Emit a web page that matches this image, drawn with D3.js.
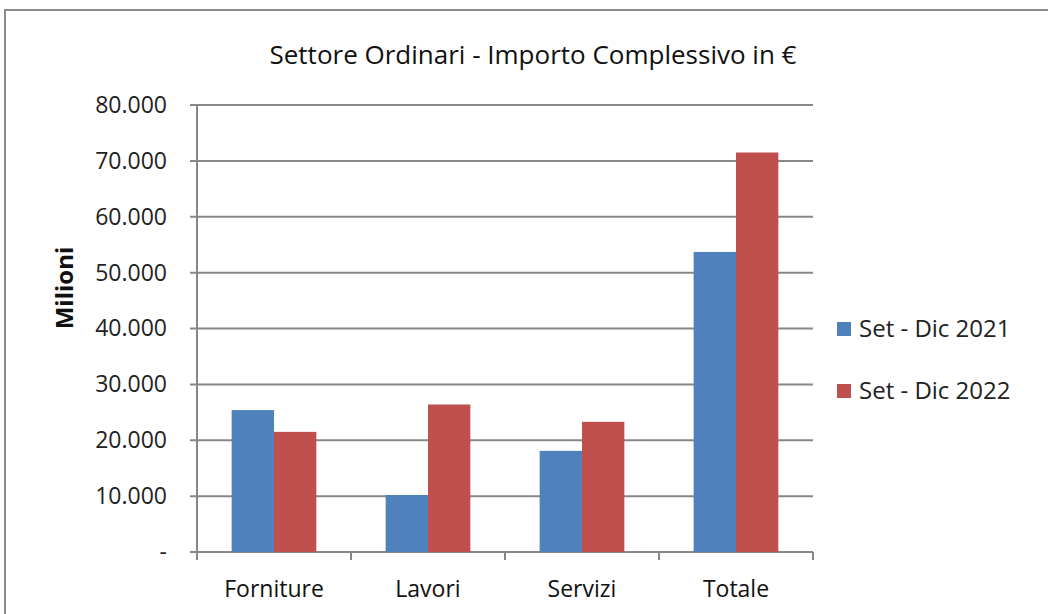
<!DOCTYPE html>
<html>
<head>
<meta charset="utf-8">
<script src="https://cdn.jsdelivr.net/npm/d3@7"></script>
<style>
    body { margin: 0; background: #fff; }
    .tick text { font-family: "Open Sans", sans-serif; font-size: 23px; fill: #222; }
    .label { font-family: "Open Sans", sans-serif; fill: #111; }
</style>
</head>
<body>
<div id="chart"></div>
<script>
const categories = ["Forniture", "Lavori", "Servizi", "Totale"];
const seriesNames = ["Set - Dic 2021", "Set - Dic 2022"];
const values2021 = [25400, 10200, 18100, 53700];
const values2022 = [21500, 26400, 23300, 71500];
const yTicks = [0, 10000, 20000, 30000, 40000, 50000, 60000, 70000, 80000];
const colors = ["#4F81BD", "#C0504D"];

function init() {
    const w = 1048;
    const h = 614;
    const left = 197, right = 813, top = 105, bottom = 552;

    var svg = d3.select("#chart").append("svg").attr("width", w).attr("height", h);

    // outer frame
    svg.append("path")
        .attr("d", "M5," + h + "V10H" + w)
        .attr("fill", "none")
        .attr("stroke", "#8a8a8a")
        .attr("stroke-width", 2);

    var xScale = d3.scaleBand().domain(categories).range([left, right]).paddingInner(0.45).paddingOuter(0.225);
    var sub = d3.scaleBand().domain(seriesNames).range([0, xScale.bandwidth()]);
    var yScale = d3.scaleLinear().domain([0, 80000]).range([bottom, top]);

    // gridlines
    svg.append("g").selectAll("line").data(yTicks).join("line")
        .attr("x1", left - 7).attr("x2", right)
        .attr("y1", d => yScale(d)).attr("y2", d => yScale(d))
        .attr("stroke", "#878787").attr("stroke-width", 2);

    // y axis
    var yAxis = d3.axisLeft(yScale).tickValues(yTicks).tickSize(7).tickPadding(23)
        .tickFormat(d => d === 0 ? "-" : d3.format(",")(d).replace(/,/g, "."));
    var gy = svg.append("g").attr("transform", "translate(" + left + ",0)").call(yAxis);
    gy.select(".domain").remove();
    gy.selectAll(".tick line").remove();
    gy.append("line").attr("x1", 0).attr("x2", 0).attr("y1", top).attr("y2", bottom + 8)
        .attr("stroke", "#878787").attr("stroke-width", 2);

    // x axis ticks at category boundaries
    var bounds = categories.map(c => xScale(c) - xScale.step() * xScale.paddingInner() / 2);
    bounds.push(right);
    svg.append("g").selectAll("line").data(bounds).join("line")
        .attr("x1", d => d).attr("x2", d => d)
        .attr("y1", bottom).attr("y2", bottom + 8)
        .attr("stroke", "#878787").attr("stroke-width", 2);

    // bars
    var data = [];
    categories.forEach((c, i) => {
        data.push({ cat: c, s: seriesNames[0], v: values2021[i], col: colors[0] });
        data.push({ cat: c, s: seriesNames[1], v: values2022[i], col: colors[1] });
    });
    svg.append("g").selectAll("rect").data(data).join("rect")
        .attr("x", d => xScale(d.cat) + sub(d.s))
        .attr("y", d => yScale(d.v))
        .attr("width", sub.bandwidth())
        .attr("height", d => yScale(0) - yScale(d.v))
        .attr("fill", d => d.col);

    // x labels
    svg.append("g").selectAll("text").data(categories).join("text")
        .attr("class", "label")
        .attr("x", d => xScale(d) + xScale.bandwidth() / 2)
        .attr("y", 597)
        .attr("text-anchor", "middle")
        .style("font-size", "23px")
        .text(d => d);

    // title
    svg.append("text").attr("class", "label")
        .attr("x", 533).attr("y", 64).attr("text-anchor", "middle")
        .style("font-size", "26px")
        .text("Settore Ordinari - Importo Complessivo in €");

    // y title
    svg.append("text")
        .attr("transform", "translate(73,288) rotate(-90)")
        .attr("text-anchor", "middle")
        .style("font-family", "'Open Sans', sans-serif")
        .style("font-weight", "bold")
        .style("font-size", "24px")
        .attr("fill", "#111")
        .text("Milioni");

    // legend
    var lg = svg.append("g").selectAll("g").data(seriesNames).join("g")
        .attr("transform", (d, i) => "translate(837," + (322 + i * 62) + ")");
    lg.append("rect").attr("width", 14).attr("height", 14).attr("fill", (d, i) => colors[i]);
    lg.append("text").attr("x", 22).attr("y", 15)
        .style("font-family", "'Open Sans', sans-serif").style("font-size", "24px")
        .attr("fill", "#222")
        .text(d => d);
}

window.onload = init();
</script>
</body>
</html>
